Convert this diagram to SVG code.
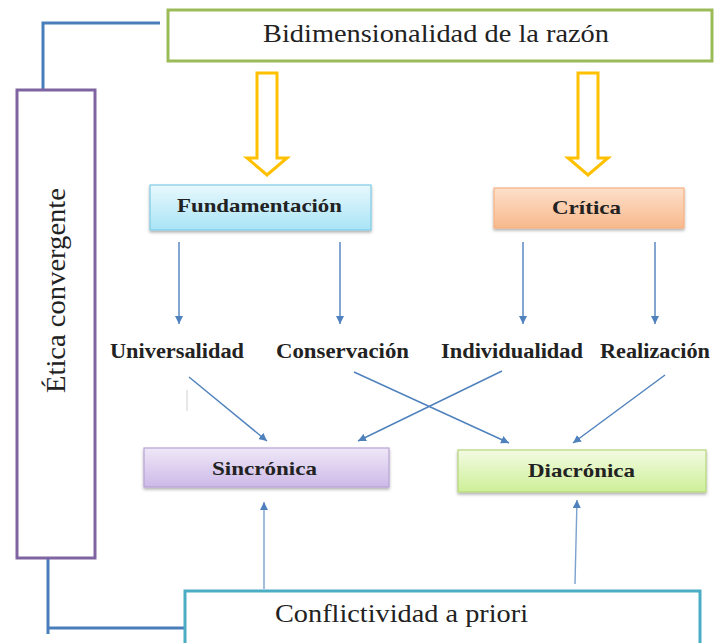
<svg xmlns="http://www.w3.org/2000/svg" width="718" height="643" viewBox="0 0 718 643">
<style>
.t{font-family:"Liberation Serif","Times New Roman",serif;fill:#222;}
.big{font-size:25px;}
.b{font-size:20px;font-weight:bold;}
.bx{font-size:19px;font-weight:bold;}
.conn{stroke:#4f81bd;stroke-width:1.4;fill:none;}
.bracket{stroke:#4a7ebb;stroke-width:3;fill:none;}
.hollow{fill:#fff;stroke:#ffc000;stroke-width:3;stroke-linejoin:miter;}
</style>
<defs>
<marker id="ah" viewBox="0 0 10 10" refX="10" refY="5" markerWidth="8" markerHeight="8" markerUnits="userSpaceOnUse" orient="auto">
<path d="M0,0 L10,5 L0,10 z" fill="#4f81bd"/>
</marker>
<linearGradient id="gCyan" x1="0" y1="0" x2="0" y2="1"><stop offset="0" stop-color="#e8f8fd"/><stop offset="1" stop-color="#a9e4f6"/></linearGradient>
<linearGradient id="gOrange" x1="0" y1="0" x2="0" y2="1"><stop offset="0" stop-color="#fde0cb"/><stop offset="1" stop-color="#f8b98c"/></linearGradient>
<linearGradient id="gPurple" x1="0" y1="0" x2="0" y2="1"><stop offset="0" stop-color="#efe8f7"/><stop offset="1" stop-color="#cdb9e8"/></linearGradient>
<linearGradient id="gGreen" x1="0" y1="0" x2="0" y2="1"><stop offset="0" stop-color="#f3fbe2"/><stop offset="1" stop-color="#cdef97"/></linearGradient>
<filter id="sh" x="-10%" y="-20%" width="120%" height="160%">
<feDropShadow dx="0" dy="2" stdDeviation="1.5" flood-color="#000" flood-opacity="0.3"/>
</filter>
</defs>

<g id="connectors">
<path class="bracket" d="M43,90 V23 H160"/>
<path class="bracket" d="M48,558 V634 M48,628 H186"/>
<path id="arrow-fund" class="hollow" d="M257,73 H277 V158 H287 L267,175 L247,158 H257 Z"/>
<path id="arrow-crit" class="hollow" d="M578,73 H598 V158 H608 L588,175 L568,158 H578 Z"/>
<line class="conn" x1="179" y1="242" x2="179" y2="324" marker-end="url(#ah)"/>
<line class="conn" x1="340" y1="242" x2="340" y2="324" marker-end="url(#ah)"/>
<line class="conn" x1="523" y1="242" x2="523" y2="324" marker-end="url(#ah)"/>
<line class="conn" x1="655" y1="242" x2="655" y2="324" marker-end="url(#ah)"/>
<line class="conn" x1="189" y1="377" x2="267" y2="441" marker-end="url(#ah)"/>
<line class="conn" x1="354" y1="372" x2="509" y2="443" marker-end="url(#ah)"/>
<line class="conn" x1="502" y1="371" x2="358" y2="441" marker-end="url(#ah)"/>
<line class="conn" x1="665" y1="375" x2="573" y2="443" marker-end="url(#ah)"/>
<line class="conn" x1="264" y1="589" x2="264" y2="502" marker-end="url(#ah)" stroke-opacity="0.75"/>
<line class="conn" x1="575" y1="584" x2="577" y2="500" marker-end="url(#ah)" stroke-opacity="0.75"/>
<line x1="187" y1="390" x2="187" y2="411" stroke="#d0d0d0" stroke-width="1"/>
</g>

<g id="node-bidimensionalidad">
<rect x="168" y="10" width="544" height="51" fill="#fff" stroke="#9bbb59" stroke-width="3"/>
<text class="t big" x="263" y="42" textLength="346" lengthAdjust="spacingAndGlyphs">Bidimensionalidad de la razón</text>
</g>

<g id="node-etica">
<rect x="17" y="90" width="78" height="468" fill="#fff" stroke="#8064a2" stroke-width="3"/>
<text class="t" font-size="27" transform="translate(65,393) rotate(-90)" textLength="205" lengthAdjust="spacingAndGlyphs">Ética convergente</text>
</g>

<g id="node-fundamentacion">
<rect x="150" y="185" width="221" height="45" fill="url(#gCyan)" stroke="#7fcbe4" stroke-width="1.2" filter="url(#sh)"/>
<text class="t bx" x="177" y="212" textLength="165" lengthAdjust="spacingAndGlyphs">Fundamentación</text>
</g>

<g id="node-critica">
<rect x="494" y="188" width="190" height="40" fill="url(#gOrange)" stroke="#f6b183" stroke-width="1.2" filter="url(#sh)"/>
<text class="t bx" x="552" y="214" textLength="69" lengthAdjust="spacingAndGlyphs">Crítica</text>
</g>

<g id="node-universalidad"><text class="t b" x="110" y="358" textLength="134" lengthAdjust="spacingAndGlyphs">Universalidad</text></g>
<g id="node-conservacion"><text class="t b" x="276" y="358" textLength="133" lengthAdjust="spacingAndGlyphs">Conservación</text></g>
<g id="node-individualidad"><text class="t b" x="441" y="358" textLength="142" lengthAdjust="spacingAndGlyphs">Individualidad</text></g>
<g id="node-realizacion"><text class="t b" x="600" y="358" textLength="110" lengthAdjust="spacingAndGlyphs">Realización</text></g>

<g id="node-sincronica">
<rect x="144" y="448" width="245" height="39" fill="url(#gPurple)" stroke="#b8a3d4" stroke-width="1.2" filter="url(#sh)"/>
<text class="t bx" x="212" y="475" textLength="105" lengthAdjust="spacingAndGlyphs">Sincrónica</text>
</g>

<g id="node-diacronica">
<rect x="458" y="450" width="248" height="42" fill="url(#gGreen)" stroke="#b5d57a" stroke-width="1.2" filter="url(#sh)"/>
<text class="t bx" x="528" y="477" textLength="107" lengthAdjust="spacingAndGlyphs">Diacrónica</text>
</g>

<g id="node-conflictividad">
<rect x="185" y="591" width="515" height="60" fill="#fff" stroke="#4bacc6" stroke-width="3"/>
<text class="t big" x="275" y="622" textLength="253" lengthAdjust="spacingAndGlyphs">Conflictividad a priori</text>
</g>
</svg>
